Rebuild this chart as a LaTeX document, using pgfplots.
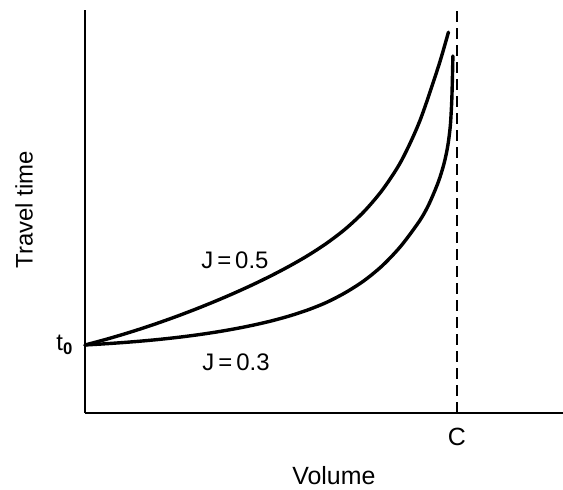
\documentclass[border=0pt]{standalone}
\usepackage{pgfplots}
\pgfplotsset{compat=1.18}
\usepackage{fontspec}
\setmainfont{Liberation Sans}
\begin{document}
\begin{tikzpicture}
\useasboundingbox (0,0) rectangle (563bp,490bp);
\begin{axis}[
  at={(85bp,77bp)}, anchor=south west,
  scale only axis, width=478bp, height=403bp,
  xmin=0, xmax=1.285, ymin=0, ymax=5.926,
  axis x line=bottom, axis y line=left,
  axis line style={-, line width=1.8bp, black},
  xtick=\empty, ytick=\empty,
  clip=false,
]
% J = 0.5
\addplot[black, line width=3.4bp, smooth, tension=0.5, line cap=round] coordinates {
(0,1.000) (0.05,1.0731) (0.1,1.1525) (0.15,1.2381) (0.2,1.3300) (0.25,1.4281)
(0.3,1.5325) (0.35,1.6431) (0.4,1.7600) (0.45,1.8844) (0.5,2.0175) (0.55,2.1613)
(0.6,2.3188) (0.65,2.4976) (0.7,2.7064) (0.75,2.9614) (0.8,3.2839) (0.85,3.7039)
(0.9,4.2939) (0.95,5.0939) (0.977,5.600)
};
% J = 0.3
\addplot[black, line width=3.4bp, smooth, tension=0.5, line cap=round] coordinates {
(0,1.000) (0.05,1.0163) (0.1,1.035) (0.15,1.0569) (0.2,1.0825) (0.25,1.1125)
(0.3,1.1475) (0.35,1.1881) (0.4,1.2350) (0.45,1.2894) (0.5,1.3525) (0.55,1.4275)
(0.6,1.5175) (0.65,1.6281) (0.7,1.7700) (0.75,1.9450) (0.8,2.1700) (0.85,2.4600)
(0.9,2.8300) (0.925,3.0750) (0.95,3.4000) (0.965,3.6650) (0.975,3.9200)
(0.982,4.2200) (0.986,4.6000) (0.988,5.0000) (0.989,5.2500)
};
\addplot[black, line width=1.3bp, dash pattern=on 11bp off 6bp] coordinates {(1,0) (1,5.926)};
\node[font=\fontsize{24}{28}\selectfont, rotate=90] at (axis cs:-0.164,2.985) {Travel time};
\node[font=\fontsize{25}{29}\selectfont] at (axis cs:0.669,-0.926) {Volume};
\node[font=\fontsize{25}{29}\selectfont] at (axis cs:1,-0.353) {C};
\node[font=\fontsize{24}{28}\selectfont, anchor=east, inner sep=0pt] at (axis cs:-0.032,1.0) {t$_{\mathbf{0}}$};
\node[font=\fontsize{24}{28}\selectfont] at (axis cs:0.403,2.25) {J\,=\,0.5};
\node[font=\fontsize{24}{28}\selectfont] at (axis cs:0.406,0.75) {J\,=\,0.3};
\end{axis}
\end{tikzpicture}
\end{document}
